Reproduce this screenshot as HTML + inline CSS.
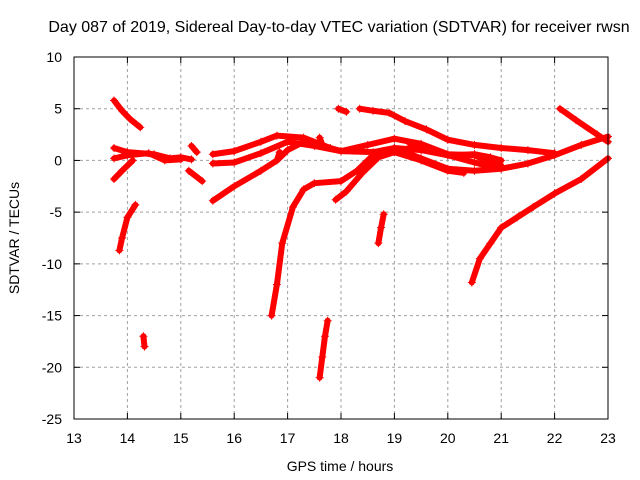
<!DOCTYPE html>
<html><head><meta charset="utf-8"><style>
body{margin:0;background:#fff}
svg{display:block;font-family:"Liberation Sans",sans-serif}
</style></head><body>
<svg id="chart" width="640" height="480">
<rect width="640" height="480" fill="#fff"/>
<text x="339" y="32" font-size="16" text-anchor="middle">Day 087 of 2019, Sidereal Day-to-day VTEC variation (SDTVAR) for receiver rwsn</text>
<g id="grid"></g>
<g id="axes"></g>
<g id="series"></g>
<rect x="74" y="57" width="534" height="362" fill="none" stroke="#000" stroke-width="1"/>
<text x="340" y="471" font-size="14" text-anchor="middle">GPS time / hours</text>
<text x="19" y="238" font-size="14" text-anchor="middle" transform="rotate(-90 19 238)">SDTVAR / TECUs</text>
</svg>
<script>
const xTicks=[13,14,15,16,17,18,19,20,21,22,23];
const yTicks=[10,5,0,-5,-10,-15,-20,-25];
const trackTop=[[13.75,5.8],[13.9,4.8],[14.05,4.0],[14.24,3.2]];
const trackZeroA=[[13.75,1.2],[14.0,0.8],[14.5,0.6],[14.8,0.2],[15.0,0.3],[15.2,0.1]];
const trackZeroB=[[13.75,0.2],[14.0,0.5],[14.4,0.7],[14.7,0.0],[15.0,0.1]];
const trackLowBranch=[[13.75,-1.8],[13.9,-1.0],[14.1,0.0]];
const trackDrop1=[[13.85,-8.7],[13.9,-7.5],[14.0,-5.5],[14.15,-4.3]];
const trackDrop2=[[14.3,-17],[14.32,-18]];
const trackShort1=[[15.2,1.4],[15.3,0.8]];
const trackShort2=[[15.15,-1.0],[15.4,-2.0]];
const trackA=[[15.6,0.6],[16.0,0.9],[16.5,1.8],[16.8,2.4],[17.3,2.2],[17.8,1.2],[18.0,0.9],[18.5,1.5],[19.0,2.1],[19.5,1.6],[20.0,0.6],[20.5,0.5],[20.8,-0.2],[21.0,-0.5]];
const trackB=[[15.6,-0.3],[16.0,-0.2],[16.5,0.7],[17.0,1.8],[17.5,1.4],[18.0,0.9],[18.6,0.8],[19.0,1.2],[19.5,0.2],[20.0,-0.8],[20.5,-1.0],[21.0,-0.8],[21.5,-0.3],[22.0,0.5],[22.5,1.5],[23.0,2.3]];
const trackC=[[15.6,-3.9],[16.0,-2.5],[16.5,-1.0],[16.8,0.0],[17.0,1.0],[17.3,1.8]];
const trackD=[[16.7,-15],[16.8,-12],[16.9,-8],[17.1,-4.5],[17.3,-2.8],[17.5,-2.2],[18.0,-2.0],[18.3,-1.0],[18.6,0.5],[19.0,1.2],[19.5,1.0],[20.0,0.5],[20.5,-0.2],[20.8,-0.6]];
const trackE=[[17.6,-21],[17.65,-19],[17.7,-17],[17.75,-15.5]];
const trackF=[[17.9,-3.8],[18.1,-3.0],[18.4,-1.2],[18.7,0.3],[19.0,0.8],[19.5,0.0],[20.0,-1.0],[20.3,-1.2]];
const trackG=[[18.7,-8],[18.75,-6.5],[18.8,-5.2]];
const trackH=[[17.95,5],[18.1,4.7]];
const trackI=[[18.35,5],[18.6,4.8],[18.9,4.6],[19.2,3.8],[19.6,3.0],[20.0,2.0],[20.5,1.5],[21.0,1.2],[21.5,1.0],[22.0,0.7]];
const trackJ=[[20.45,-11.8],[20.6,-9.5],[20.8,-8],[21.0,-6.5],[21.3,-5.5],[21.6,-4.5],[22.0,-3.2],[22.5,-1.8],[23.0,0.2]];
const trackK=[[22.1,5],[22.4,3.9],[22.8,2.5],[23.0,1.8]];
const trackL1=[[16.8,0],[16.85,0.8]];
const trackL2=[[17.6,2.2],[17.65,1.5]];
const trackM=[[19.3,1.5],[19.7,1.0],[20.0,0.5],[20.5,0.6],[20.8,0.3],[21.0,0.0]];
const tracks=[trackTop,trackZeroA,trackZeroB,trackLowBranch,trackDrop1,trackDrop2,trackShort1,trackShort2,trackA,trackB,trackC,trackD,trackE,trackF,trackG,trackH,trackI,trackJ,trackK,trackL1,trackL2,trackM];
const NS="http://www.w3.org/2000/svg";
const X0=74,X1=608,Y0=57,Y1=419;
function xs(t){return X0+(t-13)/(23-13)*(X1-X0);}
function ys(v){return Y0+(10-v)/(10+25)*(Y1-Y0);}
function mk(tag,attrs,parent){const e=document.createElementNS(NS,tag);for(const k in attrs)e.setAttribute(k,attrs[k]);parent.appendChild(e);return e;}
const grid=document.getElementById('grid'),axes=document.getElementById('axes'),ser=document.getElementById('series');
xTicks.forEach(t=>{const x=xs(t);
 if(t>13&&t<23){const l=mk('line',{x1:x,x2:x,y1:Y0,y2:Y1,stroke:'#a0a0a0','stroke-dasharray':'3,3'},grid);
 
 }
 mk('line',{x1:x,x2:x,y1:Y1,y2:Y1-6,stroke:'#000'},axes);
 mk('line',{x1:x,x2:x,y1:Y0,y2:Y0+6,stroke:'#000'},axes);
 const tx=mk('text',{x:x,y:Y1+24,'font-size':14,'text-anchor':'middle'},axes);tx.textContent=t;
 
 
});
yTicks.forEach(v=>{const y=ys(v);
 if(v<10&&v>-25){const l=mk('line',{x1:X0,x2:X1,y1:y,y2:y,stroke:'#a0a0a0','stroke-dasharray':'3,3'},grid);
 
 }
 mk('line',{x1:X0,x2:X0+6,y1:y,y2:y,stroke:'#000'},axes);
 mk('line',{x1:X1,x2:X1-6,y1:y,y2:y,stroke:'#000'},axes);
 const tx=mk('text',{x:X0-12,y:y+5,'font-size':14,'text-anchor':'end'},axes);tx.textContent=v;
 
 
});
tracks.forEach(tr=>{
 const pts=tr.map(p=>xs(p[0])+','+ys(p[1])).join(' ');
 const pl=mk('polyline',{points:pts,fill:'none',stroke:'#f00','stroke-width':6,'stroke-linejoin':'round','stroke-linecap':'round'},ser);
 
 
 tr.forEach(p=>{const x=xs(p[0]),y=ys(p[1]);
  const m=mk('path',{d:`M${x-4},${y}H${x+4}M${x},${y-4}V${y+4}`,stroke:'#f00','stroke-width':1},ser);
  
  
 });
});
</script>
</body></html>
